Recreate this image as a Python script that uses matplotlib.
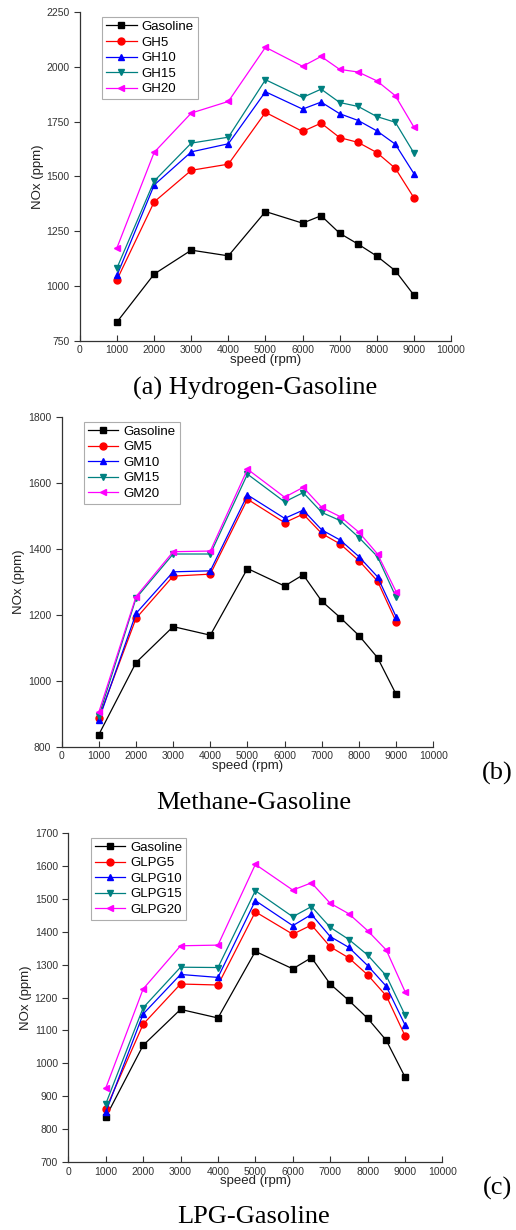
import matplotlib
matplotlib.use("Agg")
import matplotlib.pyplot as plt
import numpy as np

# engine speed (rpm)
speed = [1000, 2000, 3000, 4000, 5000, 6000, 6500, 7000, 7500, 8000, 8500, 9000]

gasoline = [837, 1055, 1164, 1138, 1340, 1287, 1321, 1241, 1191, 1137, 1070, 959]

# hydrogen blends
gh5 = [1030, 1384, 1528, 1556, 1792, 1705, 1743, 1677, 1655, 1609, 1537, 1403]
gh10 = [1050, 1461, 1612, 1649, 1886, 1807, 1839, 1786, 1755, 1708, 1647, 1513]
gh15 = [1084, 1479, 1652, 1679, 1941, 1860, 1898, 1837, 1819, 1773, 1747, 1607]
gh20 = [1176, 1610, 1789, 1842, 2089, 2002, 2047, 1988, 1976, 1936, 1868, 1725]

# methane blends
gm5 = [888, 1189, 1317, 1323, 1550, 1479, 1505, 1446, 1414, 1364, 1302, 1179]
gm10 = [882, 1204, 1330, 1333, 1563, 1492, 1517, 1457, 1426, 1376, 1315, 1194]
gm15 = [893, 1250, 1384, 1384, 1626, 1542, 1570, 1510, 1485, 1434, 1376, 1253]
gm20 = [905, 1255, 1391, 1393, 1641, 1556, 1586, 1525, 1497, 1450, 1384, 1270]

# LPG blends
glpg5 = [861, 1119, 1241, 1238, 1460, 1392, 1420, 1354, 1320, 1269, 1205, 1084]
glpg10 = [852, 1150, 1270, 1261, 1494, 1418, 1452, 1385, 1352, 1297, 1234, 1117]
glpg15 = [877, 1169, 1292, 1291, 1524, 1445, 1476, 1413, 1376, 1329, 1266, 1147]
glpg20 = [925, 1226, 1357, 1359, 1604, 1526, 1548, 1486, 1454, 1403, 1344, 1218]

colors = ['black', 'red', 'blue', '#008080', 'magenta']
markers = ['s', 'o', '^', 'v', '<']

plt.rcParams['font.family'] = ['Liberation Sans', 'DejaVu Sans']


def draw_panel(ax, series, labels, ylim, ystep):
    for vals, lab, c, m in zip(series, labels, colors, markers):
        ax.plot(speed, vals, color=c, marker=m, markersize=5, linewidth=0.9, label=lab)
    ax.set_xlim(0, 10000)
    ax.set_ylim(*ylim)
    ax.set_xticks(np.arange(0, 10001, 1000))
    ax.set_yticks(np.arange(ylim[0], ylim[1] + 1, ystep))
    for s in ['top', 'right']:
        ax.spines[s].set_visible(False)
    for s in ['left', 'bottom']:
        ax.spines[s].set_color('#333333')
        ax.spines[s].set_linewidth(0.9)
    ax.tick_params(axis='x', direction='in', length=4, labelsize=7.5, pad=3, colors='#333333')
    ax.tick_params(axis='y', direction='out', length=4, labelsize=7.5, colors='#333333')
    ax.set_xlabel('speed (rpm)', fontsize=9.5, labelpad=-1, color='#222222')
    ax.set_ylabel('NOx (ppm)', fontsize=9.5, labelpad=2, color='#222222')
    leg = ax.legend(loc='upper left', bbox_to_anchor=(0.06, 0.985), fontsize=9.5,
                    fancybox=False, edgecolor='#999999', handlelength=2.3,
                    borderpad=0.3, labelspacing=0.25, handletextpad=0.4, borderaxespad=0)
    leg.get_frame().set_linewidth(0.8)


fig = plt.figure(figsize=(5.16, 12.30), dpi=100)

ax1 = fig.add_axes([0.155, 0.7228, 0.719, 0.2675])
draw_panel(ax1, [gasoline, gh5, gh10, gh15, gh20],
           ['Gasoline', 'GH5', 'GH10', 'GH15', 'GH20'], (750, 2250), 250)

ax2 = fig.add_axes([0.1196, 0.3929, 0.720, 0.2683])
draw_panel(ax2, [gasoline, gm5, gm10, gm15, gm20],
           ['Gasoline', 'GM5', 'GM10', 'GM15', 'GM20'], (800, 1800), 200)

ax3 = fig.add_axes([0.1324, 0.0550, 0.725, 0.268])
draw_panel(ax3, [gasoline, glpg5, glpg10, glpg15, glpg20],
           ['Gasoline', 'GLPG5', 'GLPG10', 'GLPG15', 'GLPG20'], (700, 1700), 100)

serif = ['Liberation Serif', 'DejaVu Serif']
W, H = 516.0, 1230.0
fig.text(255 / W, 1 - 388 / H, '(a) Hydrogen-Gasoline', ha='center', va='center', fontsize=19, family=serif)
fig.text(497 / W, 1 - 773 / H, '(b)', ha='center', va='center', fontsize=19, family=serif)
fig.text(254 / W, 1 - 803 / H, 'Methane-Gasoline', ha='center', va='center', fontsize=19, family=serif)
fig.text(497 / W, 1 - 1188 / H, '(c)', ha='center', va='center', fontsize=19, family=serif)
fig.text(254 / W, 1 - 1217 / H, 'LPG-Gasoline', ha='center', va='center', fontsize=19, family=serif)

fig.savefig('out.png', dpi=100)
plt.close(fig)
